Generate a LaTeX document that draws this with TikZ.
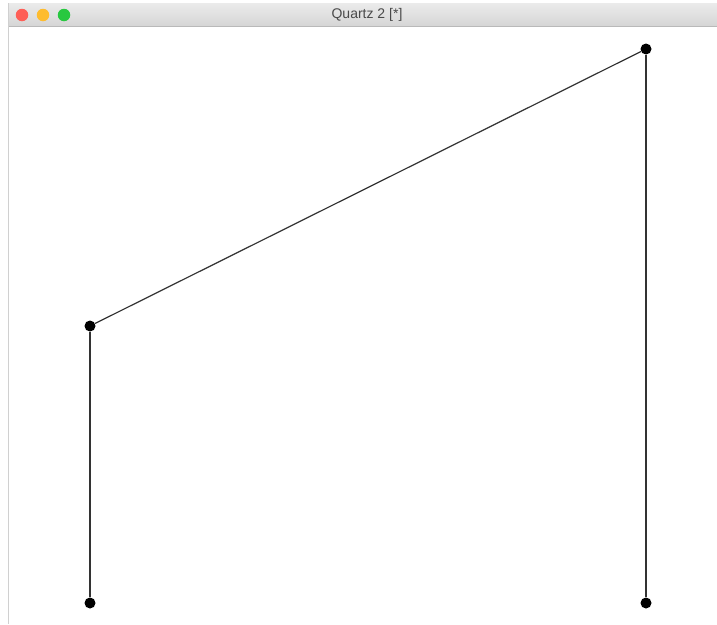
\documentclass[tikz,border=0pt]{standalone}
\usepackage{fontspec}
\setmainfont{Liberation Sans}
\usetikzlibrary{positioning}

\definecolor{barTop}{HTML}{EBEBEB}
\definecolor{barBottom}{HTML}{D5D5D5}
\definecolor{barLine}{HTML}{B9B9B9}
\definecolor{winEdge}{HTML}{D0D0D0}
\definecolor{btnRed}{HTML}{FE5F57}
\definecolor{btnYellow}{HTML}{FEBC2E}
\definecolor{btnGreen}{HTML}{28C840}
\definecolor{titleText}{HTML}{4A4A4A}

\begin{document}
\begin{tikzpicture}[
  x=1pt, y=-1pt,
  dot/.style={circle, fill=black, inner sep=0pt, minimum size=11pt},
  btn/.style={circle, inner sep=0pt, minimum size=12.5pt},
  edge/.style={draw=black!80, line width=1.2pt}
]
  \useasboundingbox (0,0) rectangle (717,624);
  \fill[white] (0,0) rectangle (717,624);

  % window frame and title bar
  \shade[top color=barTop, bottom color=barBottom] (8,3) rectangle (717,26.5);
  \draw[barLine, line width=1pt] (8,26.5) -- (717,26.5);
  \draw[winEdge, line width=0.8pt] (8,3) -- (8,624);
  \node[btn, fill=btnRed]    (close) at (22,15) {};
  \node[btn, fill=btnYellow] (mini)  at (43,15) {};
  \node[btn, fill=btnGreen]  (zoom)  at (64,15) {};
  \node[text=titleText, font=\fontsize{14}{16}\selectfont] (title) at (367,14.5) {Quartz 2 [*]};

  % the path
  \node[dot] (lowL)  at (90,603) {};
  \node[dot] (midL)  at (90,326) {};
  \node[dot] (topR)  at (646,49) {};
  \node[dot] (lowR)  at (646,603) {};

  \draw[edge] (lowL) -- (midL);
  \draw[edge] (midL) -- (topR);
  \draw[edge] (topR) -- (lowR);
\end{tikzpicture}
\end{document}
